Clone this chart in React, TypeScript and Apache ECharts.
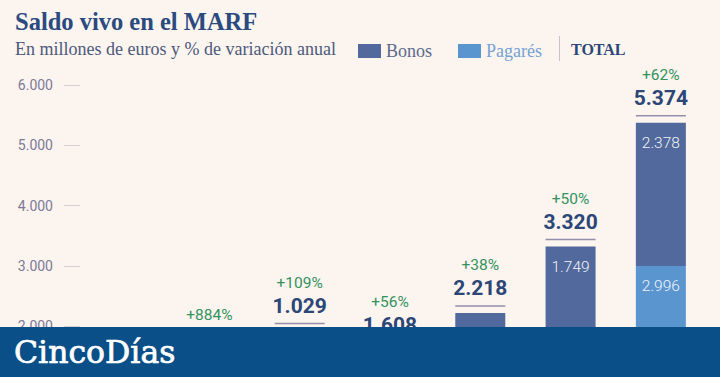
import React, { useEffect, useRef } from "react";
import * as echarts from "echarts";

const years = ["2013", "2014", "2015", "2016", "2017", "2018", "2019"];
const pagares = [0, 92, 379, 608, 590, 1571, 2996];
const bonos = [50, 400, 650, 1000, 1628, 1749, 2378];
const totals = [50, 492, 1029, 1608, 2218, 3320, 5374];
const changes = ["", "+884%", "+109%", "+56%", "+38%", "+50%", "+62%"];
const yTicks = [0, 1000, 2000, 3000, 4000, 5000, 6000];

const fmt = (v: number) => String(Math.round(v)).replace(/\B(?=(\d{3})+(?!\d))/g, ".");

const SERIF = "'Liberation Serif', serif";
const SANS = "Roboto, 'Open Sans', sans-serif";
const BG = "#fcf4ee";

export default function App() {
  const ref = useRef<HTMLDivElement>(null);
  useEffect(() => {
    document.body.style.margin = "0";
    const chart = echarts.init(ref.current!, undefined, { renderer: "svg" });
    const segLabel = {
      show: true,
      position: "insideTop",
      distance: 12,
      fontFamily: SANS,
      fontSize: 15.5,
      fontWeight: 300,
      color: "#f1f3f9",
      formatter: (p: any) => (p.value > 700 ? fmt(p.value) : ""),
    };
    chart.setOption({
      animation: false,
      backgroundColor: BG,
      title: [
        {
          text: "Saldo vivo en el MARF",
          left: 15,
          top: 9,
          padding: 0,
          textStyle: { fontFamily: SERIF, fontSize: 24.5, fontWeight: "bold", color: "#2a4a80" },
        },
        {
          text: "En millones de euros y % de variación anual",
          left: 15,
          top: 40,
          padding: 0,
          textStyle: { fontFamily: SERIF, fontSize: 18, fontWeight: "normal", color: "#4b5a7c" },
        },
      ],
      legend: {
        left: 358,
        top: 42,
        padding: 0,
        itemWidth: 23,
        itemHeight: 14,
        itemGap: 26,
        icon: "rect",
        textStyle: { fontFamily: SERIF, fontSize: 18 },
        data: [
          { name: "Bonos", textStyle: { color: "#5b6a8c" } },
          { name: "Pagarés", textStyle: { color: "#74a2d6" } },
        ],
      },
      grid: { left: 74, right: 14, top: 85, bottom: 33.4 },
      xAxis: {
        type: "category",
        data: years,
        axisLine: { show: false },
        axisTick: { show: false },
        axisLabel: { fontFamily: SANS, color: "#7c7a98" },
      },
      yAxis: {
        type: "value",
        min: yTicks[0],
        max: yTicks[yTicks.length - 1],
        interval: 1000,
        offset: -6,
        splitLine: { show: false },
        axisLine: { show: false },
        axisTick: { show: true, length: 16, lineStyle: { color: "#d6d0d4", width: 1 } },
        axisLabel: {
          margin: 27,
          fontFamily: SANS,
          fontSize: 14,
          color: "#7c7a98",
          formatter: (v: number) => fmt(v),
        },
      },
      series: [
        {
          name: "Pagarés",
          type: "bar",
          stack: "t",
          barWidth: 50,
          data: pagares,
          itemStyle: { color: "#5b95d0" },
          label: segLabel,
        },
        {
          name: "Bonos",
          type: "bar",
          stack: "t",
          barWidth: 50,
          data: bonos,
          itemStyle: { color: "#51699c" },
          label: segLabel,
        },
        {
          name: "TOTAL",
          type: "custom",
          data: totals.map((t, i) => [i, t]),
          encode: { x: 0, y: 1 },
          z: 5,
          renderItem: (params: any, api: any) => {
            const i = api.value(0);
            const t = api.value(1);
            const pt = api.coord([i, t]);
            const base = api.coord([i, 0]);
            // short bars carry their segment labels above them, which lifts the total block
            const lift = base[1] - pt[1] < 80 ? 54 : 0;
            const y0 = pt[1] - lift;
            const children: any[] = [
              {
                type: "line",
                shape: { x1: pt[0] - 25, y1: y0 - 7, x2: pt[0] + 25, y2: y0 - 7 },
                style: { stroke: "#948ead", lineWidth: 1.5 },
              },
              {
                type: "text",
                style: {
                  text: fmt(t),
                  x: pt[0],
                  y: y0 - 25,
                  align: "center",
                  verticalAlign: "middle",
                  fill: "#2b4677",
                  fontFamily: SANS,
                  fontSize: 21,
                  fontWeight: "bold",
                },
              },
            ];
            if (changes[i]) {
              children.push({
                type: "text",
                style: {
                  text: changes[i],
                  x: pt[0],
                  y: y0 - 48,
                  align: "center",
                  verticalAlign: "middle",
                  fill: "#33935e",
                  fontFamily: SANS,
                  fontSize: 15.5,
                },
              });
            }
            return { type: "group", children };
          },
        },
      ],
      graphic: [
        {
          type: "line",
          z: 50,
          shape: { x1: 559.5, y1: 36, x2: 559.5, y2: 61 },
          style: { stroke: "#c9c3c9", lineWidth: 1 },
        },
        {
          type: "text",
          z: 50,
          x: 571,
          y: 49.5,
          style: {
            text: "TOTAL",
            fontFamily: SERIF,
            fontSize: 16,
            fontWeight: "bold",
            fill: "#2b4677",
            verticalAlign: "middle",
          },
        },
        {
          type: "rect",
          z: 100,
          shape: { x: 0, y: 327, width: 720, height: 160 },
          style: { fill: "#0a4f87" },
        },
        {
          type: "text",
          z: 101,
          x: 14,
          y: 352,
          style: {
            text: "CincoDías",
            fontFamily: "'DejaVu Serif', serif",
            fontSize: 31.5,
            fill: "#ffffff",
            stroke: "#ffffff",
            lineWidth: 0.7,
            verticalAlign: "middle",
          },
        },
      ],
    });
    return () => chart.dispose();
  }, []);
  return (
    <div style={{ position: "fixed", left: 0, top: 0, width: 720, height: 377, overflow: "hidden", background: BG }}>
      <div ref={ref} style={{ width: 720, height: 480 }} />
    </div>
  );
}
